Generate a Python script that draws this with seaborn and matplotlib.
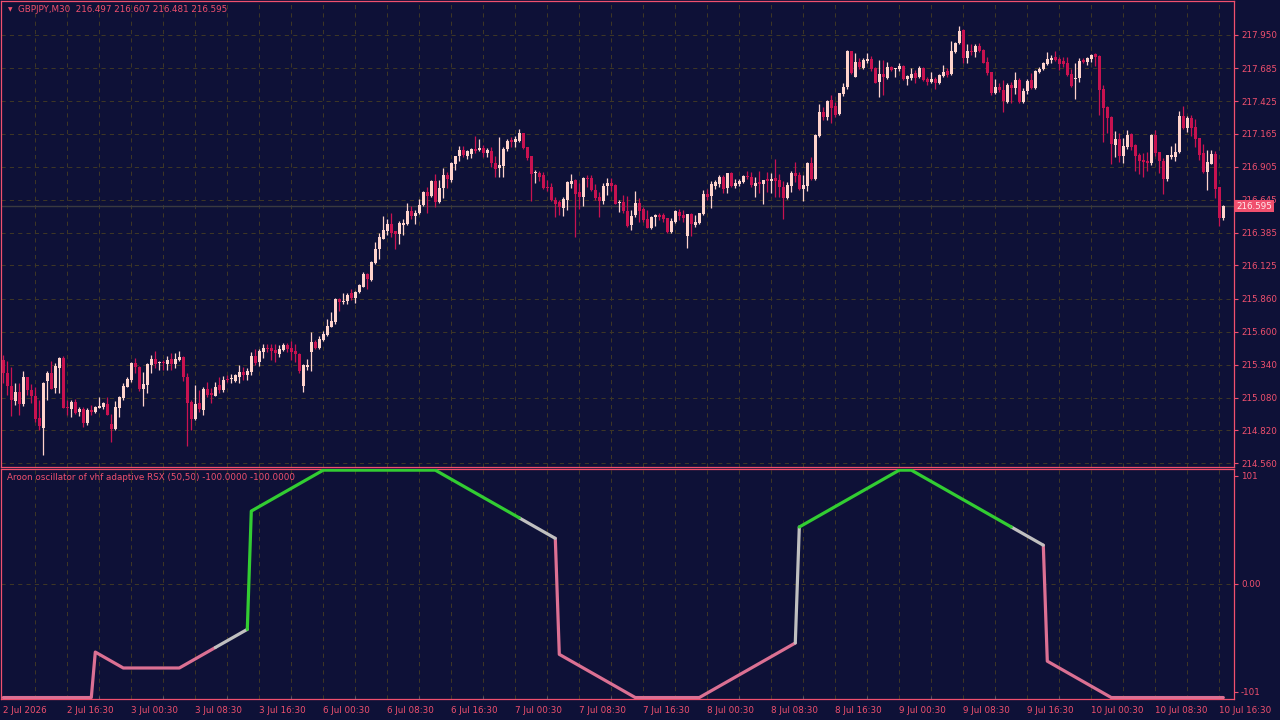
import numpy as np
import pandas as pd
import matplotlib
matplotlib.use("Agg")
import matplotlib.pyplot as plt
import matplotlib.transforms as mtransforms
import seaborn as sns

# -----------------------------
# Candles (GBPJPY M30), one entry per bar
# -----------------------------
opens = [
    215.377, 215.271, 215.171, 215.052, 215.126, 215.029, 215.242, 215.139, 215.092, 214.915,
    214.842, 215.211, 215.274, 215.153, 215.311, 215.393, 215.002, 214.989, 215.045, 214.965,
    214.986, 214.881, 214.981, 214.968, 215.000, 215.008, 215.029, 214.873, 214.828, 214.997,
    215.076, 215.163, 215.221, 215.353, 215.324, 215.145, 215.179, 215.337, 215.385, 215.350,
    215.358, 215.345, 215.385, 215.345, 215.377, 215.401, 215.240, 215.045, 214.910, 215.037,
    214.984, 215.147, 215.118, 215.095, 215.179, 215.139, 215.226, 215.226, 215.214, 215.246,
    215.280, 215.259, 215.285, 215.409, 215.362, 215.441, 215.472, 215.472, 215.456, 215.425,
    215.456, 215.496, 215.472, 215.449, 215.425, 215.174, 215.319, 215.441, 215.520, 215.472,
    215.536, 215.575, 215.641, 215.675, 215.860, 215.834, 215.847, 215.907, 215.865, 215.915,
    215.958, 216.058, 216.010, 216.142, 216.255, 216.337, 216.401, 216.453, 216.398, 216.377,
    216.448, 216.453, 216.556, 216.517, 216.538, 216.604, 216.706, 216.672, 216.793, 216.627,
    216.735, 216.841, 216.801, 216.928, 216.991, 217.039, 216.991, 217.010, 217.047, 217.041,
    217.054, 217.018, 217.028, 216.938, 216.899, 216.915, 217.047, 217.113, 217.105, 217.110,
    217.171, 217.062, 216.991, 216.854, 216.859, 216.841, 216.743, 216.743, 216.643, 216.629,
    216.582, 216.642, 216.766, 216.801, 216.708, 216.669, 216.816, 216.816, 216.722, 216.666,
    216.635, 216.753, 216.780, 216.761, 216.616, 216.627, 216.555, 216.442, 216.521, 216.621,
    216.571, 216.492, 216.418, 216.508, 216.521, 216.524, 216.497, 216.389, 216.468, 216.550,
    216.524, 216.358, 216.532, 216.442, 216.463, 216.532, 216.690, 216.674, 216.756, 216.769,
    216.827, 216.740, 216.859, 216.756, 216.769, 216.782, 216.830, 216.824, 216.756, 216.788,
    216.772, 216.806, 216.793, 216.816, 216.801, 216.745, 216.656, 216.756, 216.859, 216.840,
    216.729, 216.756, 216.933, 216.809, 217.149, 217.342, 217.297, 217.434, 217.387, 217.321,
    217.482, 217.540, 217.822, 217.619, 217.735, 217.687, 217.740, 217.756, 217.690, 217.579,
    217.640, 217.606, 217.693, 217.677, 217.679, 217.703, 217.600, 217.611, 217.645, 217.619,
    217.690, 217.600, 217.577, 217.600, 217.566, 217.624, 217.664, 217.637, 217.811, 217.882,
    217.988, 217.769, 217.822, 217.816, 217.861, 217.830, 217.735, 217.656, 217.490, 217.537,
    217.513, 217.421, 217.553, 217.532, 217.592, 217.421, 217.505, 217.592, 217.526, 217.658,
    217.677, 217.719, 217.751, 217.772, 217.759, 217.745, 217.730, 217.640, 217.598, 217.611,
    217.751, 217.732, 217.761, 217.796, 217.782, 217.521, 217.382, 217.302, 217.078, 217.126,
    216.991, 217.065, 217.165, 217.078, 216.999, 216.960, 216.954, 216.933, 217.157, 217.023,
    216.952, 216.807, 216.986, 216.986, 217.026, 217.308, 217.215, 217.295, 217.218, 217.134,
    217.012, 216.867, 216.931, 217.007, 216.746, 216.497,
]
highs = [
    215.416, 215.371, 215.319, 215.192, 215.197, 215.290, 215.245, 215.187, 215.166, 215.060,
    215.205, 215.287, 215.369, 215.350, 215.403, 215.408, 215.060, 215.060, 215.071, 215.008,
    215.008, 214.994, 215.021, 215.013, 215.084, 215.045, 215.081, 214.950, 215.052, 215.092,
    215.192, 215.240, 215.364, 215.390, 215.330, 215.282, 215.356, 215.416, 215.448, 215.369,
    215.377, 215.408, 215.430, 215.435, 215.448, 215.405, 215.271, 215.060, 215.179, 215.139,
    215.166, 215.200, 215.158, 215.205, 215.240, 215.250, 215.258, 215.267, 215.267, 215.338,
    215.319, 215.311, 215.438, 215.467, 215.467, 215.501, 215.504, 215.504, 215.504, 215.493,
    215.515, 215.515, 215.530, 215.504, 215.430, 215.343, 215.385, 215.596, 215.536, 215.567,
    215.607, 215.699, 215.760, 215.871, 215.865, 215.905, 215.910, 215.939, 215.926, 215.979,
    216.076, 216.068, 216.161, 216.311, 216.385, 216.517, 216.490, 216.540, 216.398, 216.480,
    216.490, 216.619, 216.596, 216.564, 216.651, 216.717, 216.743, 216.801, 216.849, 216.801,
    216.894, 216.867, 216.946, 216.991, 217.073, 217.070, 217.039, 217.052, 217.149, 217.126,
    217.076, 217.054, 217.060, 216.991, 217.144, 217.065, 217.126, 217.139, 217.149, 217.202,
    217.176, 217.065, 216.994, 216.880, 216.875, 216.862, 216.801, 216.775, 216.664, 216.642,
    216.664, 216.793, 216.848, 216.806, 216.774, 216.822, 216.838, 216.840, 216.766, 216.708,
    216.774, 216.814, 216.814, 216.766, 216.642, 216.682, 216.677, 216.563, 216.714, 216.656,
    216.590, 216.563, 216.516, 216.534, 216.537, 216.537, 216.503, 216.497, 216.563, 216.569,
    216.563, 216.532, 216.537, 216.524, 216.542, 216.722, 216.727, 216.793, 216.801, 216.838,
    216.840, 216.859, 216.867, 216.806, 216.811, 216.840, 216.872, 216.864, 216.827, 216.875,
    216.803, 216.864, 216.853, 216.967, 216.848, 216.793, 216.782, 216.872, 216.940, 216.867,
    216.840, 216.940, 216.985, 217.165, 217.400, 217.376, 217.434, 217.474, 217.421, 217.492,
    217.571, 217.830, 217.824, 217.803, 217.764, 217.764, 217.803, 217.782, 217.698, 217.751,
    217.751, 217.735, 217.703, 217.690, 217.724, 217.708, 217.635, 217.687, 217.671, 217.703,
    217.695, 217.613, 217.653, 217.619, 217.637, 217.711, 217.685, 217.901, 217.896, 218.020,
    217.993, 217.877, 217.877, 217.877, 217.882, 217.835, 217.772, 217.658, 217.598, 217.571,
    217.592, 217.566, 217.579, 217.658, 217.606, 217.526, 217.598, 217.645, 217.671, 217.693,
    217.732, 217.811, 217.790, 217.822, 217.772, 217.772, 217.772, 217.677, 217.730, 217.764,
    217.764, 217.777, 217.798, 217.804, 217.788, 217.553, 217.387, 217.308, 217.192, 217.171,
    217.131, 217.197, 217.171, 217.084, 217.018, 217.018, 217.026, 217.163, 217.197, 217.026,
    216.973, 216.999, 217.070, 217.092, 217.350, 217.390, 217.308, 217.316, 217.284, 217.136,
    217.086, 217.039, 217.039, 217.031, 216.749, 216.607,
]
lows = [
    215.192, 215.100, 214.934, 215.021, 214.942, 215.013, 215.100, 215.034, 214.889, 214.823,
    214.625, 215.060, 215.145, 215.113, 215.118, 214.994, 214.942, 214.928, 214.950, 214.934,
    214.844, 214.863, 214.942, 214.955, 214.994, 214.992, 214.942, 214.731, 214.823, 214.923,
    215.060, 215.161, 215.205, 215.271, 215.132, 215.013, 215.113, 215.271, 215.311, 215.298,
    215.298, 215.298, 215.298, 215.311, 215.366, 215.213, 214.696, 214.823, 214.902, 214.968,
    214.942, 215.087, 215.034, 215.092, 215.118, 215.121, 215.203, 215.193, 215.205, 215.198,
    215.219, 215.219, 215.259, 215.338, 215.330, 215.396, 215.438, 215.377, 215.364, 215.404,
    215.449, 215.438, 215.377, 215.364, 215.272, 215.127, 215.298, 215.293, 215.467, 215.467,
    215.530, 215.570, 215.636, 215.662, 215.768, 215.820, 215.820, 215.852, 215.831, 215.910,
    215.952, 215.942, 216.002, 216.137, 216.174, 216.335, 216.366, 216.353, 216.255, 216.295,
    216.366, 216.448, 216.490, 216.453, 216.532, 216.598, 216.543, 216.664, 216.590, 216.617,
    216.656, 216.741, 216.786, 216.880, 216.954, 216.986, 216.970, 216.978, 217.012, 217.031,
    216.981, 216.986, 216.902, 216.822, 216.828, 216.828, 217.033, 217.065, 217.065, 217.105,
    217.049, 216.960, 216.638, 216.775, 216.796, 216.733, 216.717, 216.635, 216.511, 216.524,
    216.518, 216.563, 216.740, 216.352, 216.571, 216.595, 216.748, 216.714, 216.642, 216.511,
    216.611, 216.682, 216.716, 216.611, 216.550, 216.537, 216.426, 216.405, 216.511, 216.471,
    216.471, 216.424, 216.410, 216.437, 216.484, 216.471, 216.379, 216.379, 216.458, 216.484,
    216.471, 216.265, 216.358, 216.431, 216.453, 216.524, 216.642, 216.577, 216.727, 216.748,
    216.700, 216.700, 216.748, 216.740, 216.756, 216.774, 216.806, 216.748, 216.669, 216.700,
    216.611, 216.708, 216.700, 216.669, 216.669, 216.495, 216.648, 216.708, 216.788, 216.722,
    216.637, 216.716, 216.801, 216.800, 217.144, 217.276, 217.276, 217.250, 217.302, 217.315,
    217.466, 217.518, 217.637, 217.613, 217.679, 217.682, 217.724, 217.666, 217.566, 217.461,
    217.474, 217.598, 217.664, 217.619, 217.666, 217.592, 217.553, 217.592, 217.566, 217.611,
    217.584, 217.550, 217.566, 217.521, 217.561, 217.619, 217.619, 217.632, 217.803, 217.877,
    217.724, 217.724, 217.790, 217.777, 217.811, 217.724, 217.632, 217.474, 217.482, 217.500,
    217.342, 217.408, 217.408, 217.482, 217.413, 217.408, 217.482, 217.524, 217.518, 217.650,
    217.671, 217.711, 217.724, 217.745, 217.672, 217.698, 217.624, 217.540, 217.442, 217.577,
    217.724, 217.711, 217.732, 217.703, 217.316, 217.105, 217.171, 216.928, 216.981, 216.946,
    216.939, 217.049, 217.039, 216.875, 216.849, 216.828, 216.875, 216.920, 216.991, 216.860,
    216.691, 216.796, 216.968, 216.954, 217.018, 217.202, 217.181, 217.150, 217.060, 216.960,
    216.860, 216.722, 216.928, 216.656, 216.438, 216.481,
]
closes = [
    215.271, 215.174, 215.060, 215.126, 215.029, 215.242, 215.139, 215.092, 214.910, 214.855,
    215.197, 215.274, 215.147, 215.332, 215.393, 215.000, 214.997, 215.045, 214.960, 214.989,
    214.881, 214.981, 214.968, 215.005, 215.013, 215.034, 214.944, 214.828, 215.005, 215.084,
    215.168, 215.226, 215.353, 215.324, 215.147, 215.190, 215.345, 215.385, 215.345, 215.356,
    215.350, 215.379, 215.345, 215.385, 215.401, 215.240, 215.039, 214.910, 215.029, 214.989,
    215.147, 215.100, 215.100, 215.166, 215.139, 215.219, 215.221, 215.232, 215.259, 215.280,
    215.259, 215.293, 215.409, 215.356, 215.449, 215.472, 215.462, 215.449, 215.433, 215.464,
    215.496, 215.467, 215.441, 215.425, 215.290, 215.338, 215.338, 215.520, 215.472, 215.544,
    215.583, 215.646, 215.686, 215.860, 215.839, 215.844, 215.892, 215.865, 215.915, 215.968,
    216.058, 216.015, 216.150, 216.255, 216.350, 216.406, 216.453, 216.385, 216.377, 216.464,
    216.464, 216.556, 216.517, 216.543, 216.604, 216.706, 216.675, 216.793, 216.630, 216.738,
    216.841, 216.809, 216.933, 216.991, 217.039, 217.002, 217.028, 217.047, 217.033, 217.052,
    217.018, 217.039, 216.938, 216.891, 216.920, 217.047, 217.110, 217.105, 217.123, 217.171,
    217.057, 216.978, 216.851, 216.859, 216.828, 216.741, 216.735, 216.643, 216.611, 216.590,
    216.653, 216.782, 216.793, 216.690, 216.669, 216.816, 216.811, 216.722, 216.661, 216.635,
    216.753, 216.780, 216.753, 216.613, 216.621, 216.555, 216.439, 216.516, 216.621, 216.555,
    216.484, 216.424, 216.508, 216.526, 216.505, 216.492, 216.387, 216.476, 216.555, 216.516,
    216.497, 216.532, 216.453, 216.471, 216.537, 216.693, 216.666, 216.772, 216.782, 216.827,
    216.732, 216.853, 216.753, 216.780, 216.795, 216.830, 216.822, 216.761, 216.780, 216.772,
    216.798, 216.795, 216.811, 216.793, 216.743, 216.661, 216.764, 216.859, 216.835, 216.729,
    216.761, 216.933, 216.809, 217.157, 217.342, 217.297, 217.429, 217.373, 217.315, 217.487,
    217.540, 217.822, 217.645, 217.735, 217.693, 217.748, 217.761, 217.677, 217.571, 217.640,
    217.619, 217.695, 217.671, 217.685, 217.703, 217.603, 217.624, 217.640, 217.611, 217.690,
    217.592, 217.577, 217.600, 217.566, 217.632, 217.658, 217.632, 217.822, 217.888, 217.980,
    217.769, 217.822, 217.814, 217.861, 217.822, 217.729, 217.645, 217.487, 217.537, 217.513,
    217.426, 217.553, 217.532, 217.592, 217.421, 217.505, 217.584, 217.532, 217.664, 217.682,
    217.724, 217.759, 217.769, 217.751, 217.719, 217.716, 217.632, 217.545, 217.611, 217.743,
    217.735, 217.769, 217.790, 217.777, 217.513, 217.374, 217.295, 217.086, 217.126, 216.994,
    217.070, 217.157, 217.060, 216.994, 216.952, 216.946, 216.939, 217.157, 217.018, 216.952,
    216.809, 216.999, 216.999, 217.026, 217.308, 217.215, 217.289, 217.210, 217.126, 216.999,
    216.867, 216.944, 217.007, 216.730, 216.503, 216.595,
]

price_ticks = [214.560, 214.820, 215.080, 215.340, 215.600, 215.860, 216.125,
               216.385, 216.645, 216.905, 217.165, 217.425, 217.685, 217.950]

time_labels = ["2 Jul 2026", "2 Jul 16:30", "3 Jul 00:30", "3 Jul 08:30", "3 Jul 16:30",
               "6 Jul 00:30", "6 Jul 08:30", "6 Jul 16:30", "7 Jul 00:30", "7 Jul 08:30",
               "7 Jul 16:30", "8 Jul 00:30", "8 Jul 08:30", "8 Jul 16:30", "9 Jul 00:30",
               "9 Jul 08:30", "9 Jul 16:30", "10 Jul 00:30", "10 Jul 08:30", "10 Jul 16:30"]

# -----------------------------
# Aroon oscillator line: vertices (bar, value) and state of each piece between them
# -----------------------------
osc_bars = [0, 22, 23, 30, 44, 53, 61, 62, 80, 108, 129, 138, 139, 158, 174, 198, 199,
            224, 227, 252, 260, 261, 277, 305]
osc_vals = [-100, -100, -60, -74, -74, -56, -40, 64, 100, 100, 58, 40, -62, -100, -100,
            -52, 50, 100, 100, 50, 34, -68, -100, -100]
osc_state = ["down", "down", "down", "down", "down", "flat", "up", "up", "up", "up",
             "flat", "down", "down", "down", "down", "flat", "up", "up", "up", "flat",
             "down", "down", "down"]

last_price = 216.595

BG = "#0e1137"
PINK = "#f0506e"
BULL = "#ffd3cc"
BEAR = "#c81250"
GRID = "#3d3626"
LINE_COLORS = {"up": "#32cd32", "down": "#db7093", "flat": "#c0c0c0"}

sns.set_theme(style="dark", rc={"axes.facecolor": BG, "figure.facecolor": BG})
plt.rcParams["font.family"] = ["DejaVu Sans"]
FS = 6.3

W, H = 1280, 720
fig = plt.figure(figsize=(12.8, 7.2), dpi=100, facecolor=BG)
left, right = 1 / W, 1234 / W
ax1 = fig.add_axes([left, 1 - 466.5 / H, right - left, 466 / H])
ax2 = fig.add_axes([left, 1 - 698.7 / H, right - left, 229.7 / H])

# bar i sits at pixel 3.3 + 4*i
xmin = (1 - 3.3) / 4
xmax = (1234 - 3.3) / 4
n = len(closes)

for ax in (ax1, ax2):
    ax.set_facecolor(BG)
    ax.set_xlim(xmin, xmax)
    for s in ax.spines.values():
        s.set_color(PINK)
        s.set_linewidth(0.9)
        s.set_visible(True)
    for b in range(8, n, 8):
        ax.axvline(b, color=GRID, lw=0.75, ls=(0, (4, 4)), zorder=0)

# -----------------------------
# Price panel
# -----------------------------
ax1.set_ylim(218.225 - 466.5 / 126.4, 218.225 - 0.5 / 126.4)
for p in price_ticks:
    ax1.axhline(p, color=GRID, lw=0.75, ls=(0, (4, 4)), zorder=0)
ax1.axhline(last_price, color="#3a3a40", lw=1.0, zorder=1)

df = pd.DataFrame({"o": opens, "h": highs, "l": lows, "c": closes})
df["bar"] = np.arange(n)
cols = np.where(df["c"] >= df["o"], BULL, BEAR)
ax1.vlines(df["bar"], df["l"], df["h"], colors=cols, lw=0.9, zorder=2)
body_lo = np.minimum(df["o"], df["c"])
body_h = np.maximum((df["c"] - df["o"]).abs(), 0.009)
ax1.bar(df["bar"], body_h, bottom=body_lo, width=0.78, color=cols, linewidth=0, zorder=3)

ax1.set_xticks([])
ax1.yaxis.tick_right()
ax1.set_yticks(price_ticks, [f"{p:.3f}" for p in price_ticks])
ax1.tick_params(axis="y", colors=PINK, length=3, width=0.8, pad=2, labelsize=FS, direction="out")
ax1.set_xlabel("")
ax1.set_ylabel("")

trans = mtransforms.blended_transform_factory(ax1.transAxes, ax1.transData)
ax1.text(1.0016, last_price, f"{last_price:.3f}", transform=trans, ha="left", va="center",
         fontsize=FS, color="#ffe8ec", zorder=10, clip_on=False,
         bbox=dict(boxstyle="square,pad=0.22", fc=PINK, ec="none"))

fig.text(8 / W, 1 - 10 / H, "\u25bc", color=PINK, fontsize=4.2, va="center", ha="left")
fig.text(18 / W, 1 - 10 / H, "GBPJPY,M30  216.497 216.607 216.481 216.595",
         color=PINK, fontsize=FS, va="center", ha="left")

# -----------------------------
# Oscillator panel
# -----------------------------
ax2.set_ylim(-101, 101)
ax2.axhline(0, color=GRID, lw=0.75, ls=(0, (4, 4)), zorder=0)

rows = []
run = -1
prev = None
for k, st in enumerate(osc_state):
    if st != prev:
        run += 1
        rows.append((run, st, osc_bars[k], osc_vals[k]))
        prev = st
    rows.append((run, st, osc_bars[k + 1], osc_vals[k + 1]))
osc = pd.DataFrame(rows, columns=["run", "state", "bar", "val"])

sns.lineplot(data=osc, x="bar", y="val", hue="state", units="run", estimator=None,
             palette=LINE_COLORS, lw=2.3, legend=False, sort=False, ax=ax2,
             solid_capstyle="round", solid_joinstyle="round", zorder=3)
ax2.set_xlabel("")
ax2.set_ylabel("")

ax2.yaxis.tick_right()
ax2.set_yticks([95, 0, -95], ["101", "0.00", "-101"])
ax2.tick_params(axis="y", colors=PINK, length=3, width=0.8, pad=2, labelsize=FS, direction="out")

label_bars = list(range(0, 16 * len(time_labels), 16))
ax2.set_xticks(label_bars, time_labels)
ax2.set_xticks(list(range(8, n, 16)), minor=True)
ax2.tick_params(axis="x", which="major", colors=PINK, length=3, width=0.8, pad=2,
                labelsize=FS, direction="out")
ax2.tick_params(axis="x", which="minor", colors="#55506a", length=2.5, width=0.8,
                direction="in", bottom=True)
for lbl in ax2.get_xticklabels():
    lbl.set_ha("left")

fig.text(7 / W, 1 - 478 / H,
         "Aroon oscillator of vhf adaptive RSX (50,50) -100.0000 -100.0000",
         color=PINK, fontsize=FS, va="center", ha="left")

fig.savefig("out.png", dpi=100, facecolor=BG)
